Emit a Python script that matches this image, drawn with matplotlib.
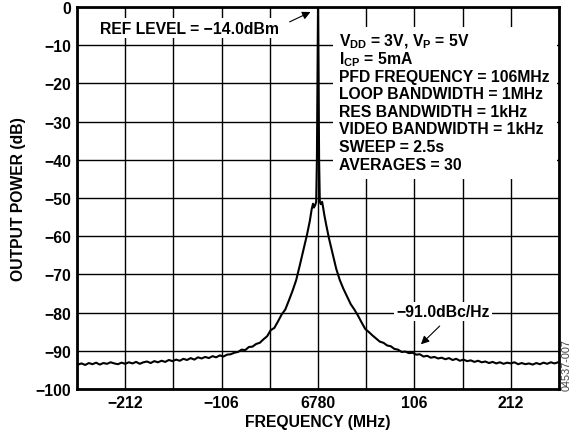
import numpy as np
import matplotlib
matplotlib.use('Agg')
import matplotlib.pyplot as plt

plt.rcParams['font.family'] = ['Liberation Sans', 'DejaVu Sans']
plt.rcParams['font.weight'] = 'bold'
plt.rcParams['mathtext.fontset'] = 'custom'
plt.rcParams['mathtext.bf'] = 'Liberation Sans:bold'
plt.rcParams['mathtext.rm'] = 'Liberation Sans:bold'

# frequency offset from 6780MHz carrier (MHz) and measured level (dB)
left_floor_f = list(range(-264, -91, 4))
left_floor_db = [-93.6, -93.3, -93.7, -93.2, -93.5, -93.1, -93.6, -93.2, -93.4, -93.0,
                 -93.3, -93.5, -93.1, -93.4, -93.0, -93.3, -92.9, -93.4, -93.0, -92.8,
                 -93.2, -92.7, -93.0, -92.6, -92.9, -92.4, -92.7, -92.3, -92.6, -92.1,
                 -92.4, -91.9, -92.3, -91.7, -92.0, -91.6, -91.9, -91.4, -91.7, -91.2,
                 -91.5, -91.0, -90.9, -90.5]
skirt_f = [-88, -84, -80, -76, -72, -68, -64, -60, -56, -52, -48, -44, -40, -36, -32,
           -28, -24, -20, -16, -12, -9, -7, -5.5, -4.5, -3, -2, -1.2, -0.5, 0,
           0.5, 1.2, 2, 3, 4.5, 5.5, 7, 9, 12, 16, 20, 24, 28, 32, 36, 40, 44, 48,
           52, 56, 60, 64, 68, 72, 76, 80, 84, 88]
skirt_db = [-90.3, -89.7, -89.8, -89.0, -88.9, -88.2, -87.9, -87.0, -86.2, -84.6,
            -84.0, -82.3, -80.5, -79.2, -76.8, -74.3, -71.5, -67.6, -63.5, -59.5,
            -56.0, -53.0, -51.5, -52.5, -51.8, -51.0, -40.0, -15.0, 0.0,
            -15.0, -40.0, -51.0, -51.6, -51.0, -52.3, -54.5, -57.0, -60.5, -64.5,
            -68.5, -71.5, -73.8, -75.8, -77.8, -79.2, -80.8, -82.6, -84.3, -85.1,
            -86.0, -86.8, -87.6, -87.9, -88.6, -88.8, -89.5, -89.7]
right_floor_f = list(range(92, 265, 4))
right_floor_db = [-90.3, -90.2, -90.6, -90.5, -91.0, -90.9, -91.5, -91.3, -91.8, -91.6,
                  -92.0, -91.8, -92.2, -91.9, -92.4, -92.1, -92.6, -92.3, -92.7, -92.5,
                  -92.9, -92.6, -93.0, -92.8, -93.2, -92.9, -93.3, -93.0, -93.4, -93.1,
                  -93.3, -93.0, -93.5, -93.2, -93.5, -93.3, -93.6, -93.2, -93.5, -93.1,
                  -93.4, -93.0, -93.3, -93.0]

freq = np.array(left_floor_f + skirt_f + right_floor_f, dtype=float)
level = np.array(left_floor_db + skirt_db + right_floor_db)

grid_ticks = np.arange(-265, 266, 53)
tick_labels = ['', '\u2212212', '', '\u2212106', '', '6780', '', '106', '', '212', '']
y_ticks = np.arange(-100, 1, 10)

FS = 11.3

fig = plt.figure(figsize=(5.82, 4.35), dpi=100)
ax = fig.add_axes([0.1323, 0.1034, 0.8282, 0.8782])

ax.plot(freq, level, color='black', lw=1.5, zorder=3)

ax.set_xlim(-265, 265)
ax.set_ylim(-100, 0)
ax.set_xticks(grid_ticks)
ax.set_xticklabels(tick_labels)
ax.set_yticks(y_ticks)
ax.set_yticklabels(['\u2212%d' % abs(v) if v != 0 else '0' for v in y_ticks])
ax.tick_params(length=0, labelsize=FS, pad=4)
ax.grid(True, color='black', lw=1.0)
ax.set_axisbelow(True)
for s in ax.spines.values():
    s.set_linewidth(2)

ax.set_xlabel('FREQUENCY (MHz)', fontsize=FS, fontweight='bold', labelpad=3)
ax.set_ylabel('OUTPUT POWER (dB)', fontsize=FS, fontweight='bold', labelpad=7)

# ref level note
ax.text(-141, -5.5, 'REF LEVEL = \u221214.0dBm', fontsize=FS, fontweight='bold',
        ha='center', va='center', zorder=4,
        bbox=dict(facecolor='white', edgecolor='none', pad=1.5))
ax.annotate('', xy=(-5.5, -1), xytext=(-34, -4.2),
            arrowprops=dict(arrowstyle='-|>', color='black', lw=0.8,
                            mutation_scale=12), zorder=5)

# conditions box
ax.add_patch(plt.Rectangle((16.5, -44.9), 246, 39.7, facecolor='white',
                           edgecolor='none', zorder=2))
conds = ['V$_{\\mathbf{DD}}$ = 3V, V$_{\\mathbf{P}}$ = 5V',
         'I$_{\\mathbf{CP}}$ = 5mA',
         'PFD FREQUENCY = 106MHz',
         'LOOP BANDWIDTH = 1MHz',
         'RES BANDWIDTH = 1kHz',
         'VIDEO BANDWIDTH = 1kHz',
         'SWEEP = 2.5s',
         'AVERAGES = 30']
for i, c in enumerate(conds):
    ax.text(23, -8.9 - i * 4.6, c, fontsize=FS, fontweight='bold',
            ha='left', va='center', zorder=4)

# noise level note
ax.text(137.5, -79.6, '\u221291.0dBc/Hz', fontsize=FS, fontweight='bold',
        ha='center', va='center', zorder=4,
        bbox=dict(facecolor='white', edgecolor='none', pad=1.5))
ax.annotate('', xy=(111, -88.8), xytext=(136, -83),
            arrowprops=dict(arrowstyle='-|>', color='black', lw=0.8,
                            mutation_scale=12), zorder=5)

fig.text(0.973, 0.16, '04537-007', rotation=90, fontsize=7.8, fontweight='normal',
         color='#444444', ha='center', va='center')

fig.savefig('out.png', dpi=100)
